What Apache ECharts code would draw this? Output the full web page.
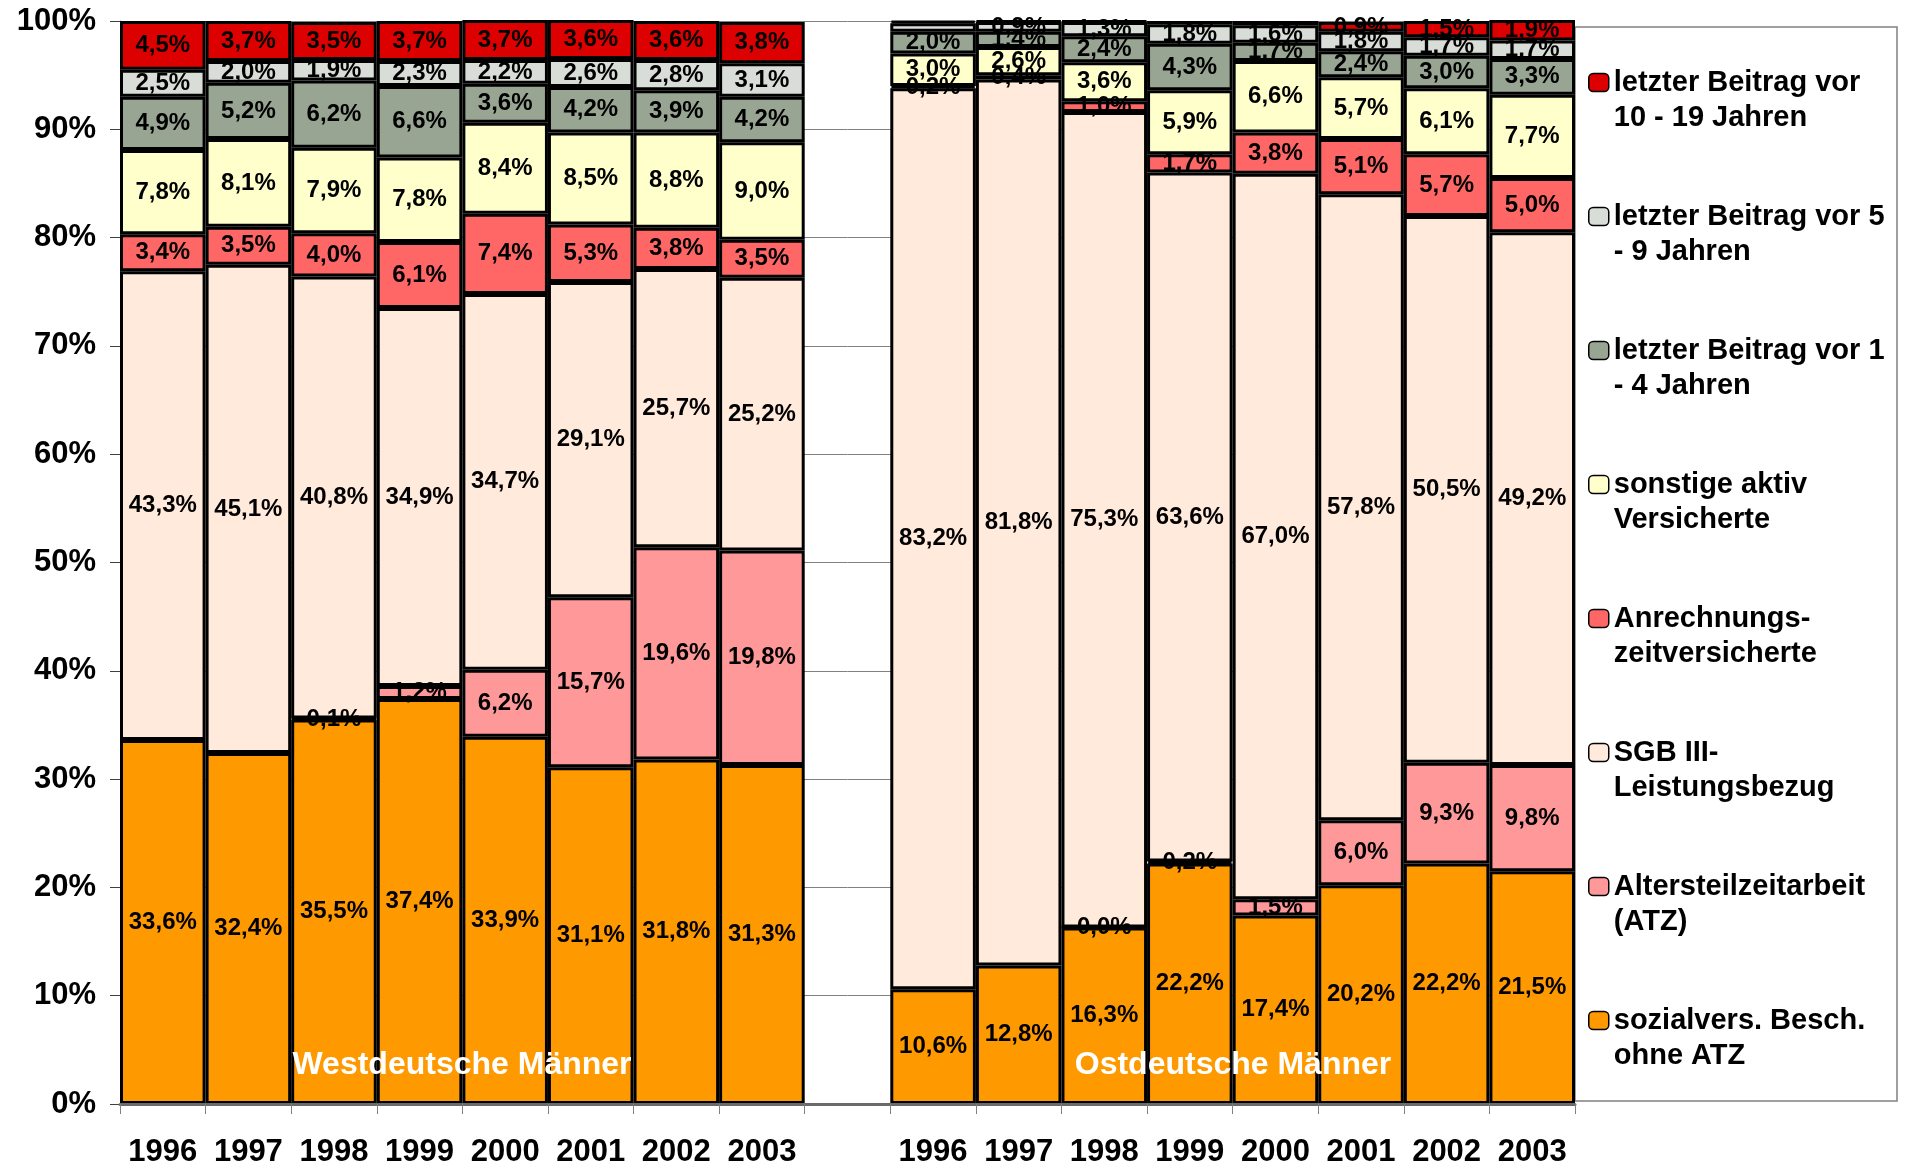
<!DOCTYPE html>
<html>
<head>
<meta charset="utf-8">
<script src="https://cdn.jsdelivr.net/npm/echarts@6/dist/echarts.min.js"></script>
<style>
html,body{margin:0;padding:0;background:#fff;}
#chart{width:1908px;height:1168px;}
</style>
</head>
<body>
<div id="chart"></div>
<script>
// ---- Data ----
const years = ['1996','1997','1998','1999','2000','2001','2002','2003'];
const regionTitles = ['Westdeutsche Männer', 'Ostdeutsche Männer'];
const yTicks = [0,10,20,30,40,50,60,70,80,90,100];

// series names (stack order bottom -> top)
const seriesNames = [
  'sozialvers. Besch.\nohne ATZ',
  'Altersteilzeitarbeit\n(ATZ)',
  'SGB III-\nLeistungsbezug',
  'Anrechnungs-\nzeitversicherte',
  'sonstige aktiv\nVersicherte',
  'letzter Beitrag vor 1\n- 4 Jahren',
  'letzter Beitrag vor 5\n- 9 Jahren',
  'letzter Beitrag vor\n10 - 19 Jahren'
];

// West (values in %)
const westBesch   = [33.6, 32.4, 35.5, 37.4, 33.9, 31.1, 31.8, 31.3];
const westATZ     = [null, null, 0.1, 1.2, 6.2, 15.7, 19.6, 19.8];
const westSGB     = [43.3, 45.1, 40.8, 34.9, 34.7, 29.1, 25.7, 25.2];
const westAnr     = [3.4, 3.5, 4.0, 6.1, 7.4, 5.3, 3.8, 3.5];
const westSonst   = [7.8, 8.1, 7.9, 7.8, 8.4, 8.5, 8.8, 9.0];
const westB1_4    = [4.9, 5.2, 6.2, 6.6, 3.6, 4.2, 3.9, 4.2];
const westB5_9    = [2.5, 2.0, 1.9, 2.3, 2.2, 2.6, 2.8, 3.1];
const westB10_19  = [4.5, 3.7, 3.5, 3.7, 3.7, 3.6, 3.6, 3.8];

// East (values in %)
const eastBesch   = [10.6, 12.8, 16.3, 22.2, 17.4, 20.2, 22.2, 21.5];
const eastATZ     = [null, null, 0.0, 0.2, 1.5, 6.0, 9.3, 9.8];
const eastSGB     = [83.2, 81.8, 75.3, 63.6, 67.0, 57.8, 50.5, 49.2];
const eastAnr     = [0.2, 0.4, 1.0, 1.7, 3.8, 5.1, 5.7, 5.0];
const eastSonst   = [3.0, 2.6, 3.6, 5.9, 6.6, 5.7, 6.1, 7.7];
const eastB1_4    = [2.0, 1.4, 2.4, 4.3, 1.7, 2.4, 3.0, 3.3];
const eastB5_9    = [0.8, 0.9, 1.3, 1.8, 1.6, 1.8, 1.7, 1.7];
const eastB10_19  = [0.2, 0.1, 0.1, 0.3, 0.4, 0.9, 1.5, 1.9];

// segments that carry no printed label in the original (East year indices)
const eastUnlabeled = { 6: [0], 7: [0, 1, 2, 3, 4] };

const westAll = [westBesch, westATZ, westSGB, westAnr, westSonst, westB1_4, westB5_9, westB10_19];
const eastAll = [eastBesch, eastATZ, eastSGB, eastAnr, eastSonst, eastB1_4, eastB5_9, eastB10_19];

const colors = ['#FF9900', '#FF9999', '#FFEADC', '#FF6666', '#FFFFCC', '#99A593', '#D9DDD7', '#DD0000'];

// ---- Build ----
const categories = years.concat(['']).concat(years);
const FONT = '"Liberation Sans", Arial, sans-serif';

function fmt(v) { return v.toFixed(1).replace('.', ',') + '%'; }

const series = seriesNames.map((name, si) => {
  const hidden = eastUnlabeled[si] || [];
  const data = [];
  westAll[si].forEach(v => data.push(v));
  data.push(null);
  eastAll[si].forEach((v, i) => {
    if (v !== null && hidden.indexOf(i) >= 0) {
      data.push({ value: v, label: { show: false } });
    } else {
      data.push(v);
    }
  });
  return {
    name: name,
    type: 'bar',
    stack: 'total',
    barCategoryGap: '0%',
    barGap: '0%',
    data: data,
    itemStyle: { color: colors[si], borderColor: '#000', borderWidth: 3 },
    label: {
      show: true,
      position: 'inside',
      color: '#000',
      fontFamily: FONT,
      fontWeight: 'bold',
      fontSize: 24,
      formatter: p => (p.value === null || p.value === undefined) ? '' : fmt(Number(p.value))
    },
    emphasis: { disabled: true }
  };
});

const chart = echarts.init(document.getElementById('chart'), null, { renderer: 'canvas' });

chart.setOption({
  animation: false,
  backgroundColor: '#fff',
  grid: { left: 120, right: 333, top: 21, bottom: 63, containLabel: false },
  xAxis: {
    type: 'category',
    data: categories,
    axisLine: { show: true, lineStyle: { color: '#6a6a6a', width: 3 } },
    axisTick: { show: true, length: 10, lineStyle: { color: '#808080', width: 1 } },
    axisLabel: { color: '#000', fontFamily: FONT, fontWeight: 'bold', fontSize: 31, margin: 33, interval: 0 },
    z: 10
  },
  yAxis: {
    type: 'value',
    min: yTicks[0],
    max: yTicks[yTicks.length - 1],
    interval: 10,
    axisLine: { show: true, lineStyle: { color: '#808080', width: 1 } },
    axisTick: { show: true, length: 10, lineStyle: { color: '#404040', width: 1 } },
    axisLabel: { color: '#000', fontFamily: FONT, fontWeight: 'bold', fontSize: 31, margin: 24, formatter: '{value}%' },
    splitLine: { show: true, lineStyle: { color: '#808080', width: 1 } }
  },
  legend: {
    orient: 'vertical',
    left: 1588,
    top: 30,
    padding: 0,
    itemGap: 29,
    itemWidth: 20,
    itemHeight: 18,
    selectedMode: false,
    data: seriesNames.slice().reverse(),
    formatter: name => '\n' + name,
    itemStyle: { borderColor: '#000', borderWidth: 1.5 },
    textStyle: { color: '#000', fontFamily: FONT, fontWeight: 'bold', fontSize: 29, lineHeight: 35 }
  },
  graphic: [
    { type: 'rect', z: -1, shape: { x: 1575, y: 27, width: 322, height: 1074 },
      style: { fill: '#fff', stroke: '#808080', lineWidth: 1.5 } },
    { type: 'text', z: 100, x: 462, y: 1065,
      style: { text: regionTitles[0], fill: '#fff', font: 'bold 32px ' + FONT, align: 'center', verticalAlign: 'middle' } },
    { type: 'text', z: 100, x: 1233, y: 1065,
      style: { text: regionTitles[1], fill: '#fff', font: 'bold 32px ' + FONT, align: 'center', verticalAlign: 'middle' } }
  ],
  series: series
});
</script>
</body>
</html>
